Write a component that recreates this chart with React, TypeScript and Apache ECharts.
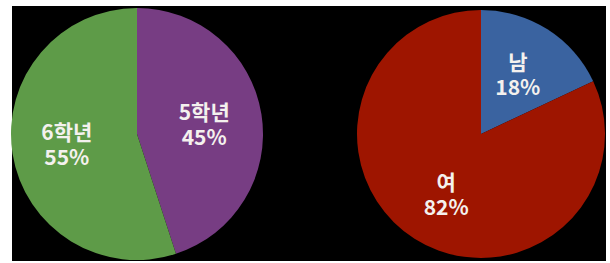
import React, { useEffect, useRef } from "react";
import * as echarts from "echarts";

const gradeNames = ["5학년", "6학년"];
const gradeValues = [45, 55];
const genderNames = ["남", "여"];
const genderValues = [18, 82];

export default function App() {
  const ref = useRef<HTMLDivElement>(null);
  useEffect(() => {
    if (!ref.current) return;
    const chart = echarts.init(ref.current, null, { renderer: "svg" });
    const labelStyle = {
      show: true,
      position: "inside",
      formatter: (p: any) => `${p.name}\n${p.value}%`,
      color: "#f4f1ee",
      fontFamily: "Noto Sans CJK KR",
      fontWeight: "bold",
      fontSize: 21,
      lineHeight: 25,
    };
    chart.setOption({
      animation: false,
      backgroundColor: "#ffffff",
      graphic: [
        {
          type: "rect",
          z: -10,
          shape: { x: 12, y: 6, width: 594, height: 255 },
          style: { fill: "#000000" },
        },
      ],
      series: [
        {
          type: "pie",
          center: [137, 134],
          radius: 126,
          startAngle: 90,
          clockwise: true,
          label: labelStyle,
          labelLine: { show: false },
          itemStyle: { borderWidth: 0 },
          data: gradeNames.map((n, i) => ({
            name: n,
            value: gradeValues[i],
            itemStyle: { color: i === 0 ? "#773d83" : "#5e9b48" },
            label: i === 0 ? { offset: [2, 0] } : { offset: [-5, -1] },
          })),
        },
        {
          type: "pie",
          center: [481, 134],
          radius: 124,
          startAngle: 90,
          clockwise: true,
          label: labelStyle,
          labelLine: { show: false },
          itemStyle: { borderWidth: 0 },
          data: genderNames.map((n, i) => ({
            name: n,
            value: genderValues[i],
            itemStyle: { color: i === 0 ? "#3a63a0" : "#9e1500" },
            label: i === 0 ? { offset: [2, -6] } : { offset: [0, 5] },
          })),
        },
      ],
    });
    return () => chart.dispose();
  }, []);
  return (
    <div
      ref={ref}
      style={{ position: "fixed", left: 0, top: 0, width: 610, height: 263 }}
    />
  );
}
